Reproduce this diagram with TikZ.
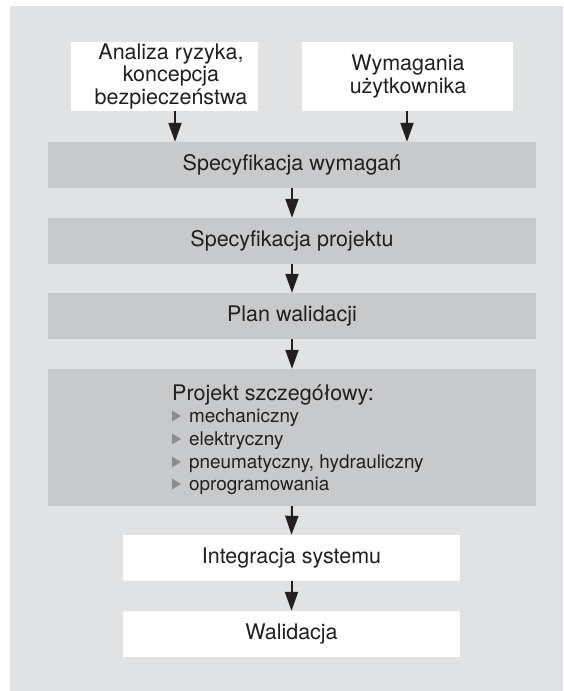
\documentclass[tikz,border=0pt]{standalone}
\usepackage{fontspec}
\setmainfont{TeX Gyre Heros}
\usetikzlibrary{arrows.meta}
\definecolor{bgc}{HTML}{E1E2E4}
\definecolor{boxc}{HTML}{C8C9CB}
\definecolor{txtc}{HTML}{231F20}
\definecolor{bulc}{HTML}{8C8D8F}
\begin{document}
\begin{tikzpicture}[x=1pt,y=-1pt,
  bigfont/.style={font=\fontsize{21.5}{22.5}\selectfont},
  smallfont/.style={font=\fontsize{18.9}{22.5}\selectfont},
  boxbase/.style={draw=none, inner sep=0pt, text=txtc, bigfont, align=center,
    text height=15pt, text depth=4.5pt},
  graybox/.style={boxbase, fill=boxc, minimum width=488pt, minimum height=46pt},
  whitebox/.style={boxbase, fill=white, minimum width=337pt, minimum height=46pt},
  topbox/.style={draw=none, inner sep=0pt, fill=white, minimum height=69pt},
  toptext/.style={inner sep=0pt, text=txtc, bigfont, align=center},
  arr/.style={draw=txtc, line width=2pt, -{Triangle[length=19pt,width=13pt]}},
  bullet/.style={fill=bulc},
  itemtext/.style={anchor=base west, inner sep=0pt, text=txtc, smallfont},
  titletext/.style={anchor=base west, inner sep=0pt, text=txtc, bigfont}
]
\useasboundingbox (0,0) rectangle (563,691);
\fill[bgc] (10,6) rectangle (563,691);

% top boxes
\node[topbox, minimum width=187pt] (ar) at (164.5,76.5) {};
\node[toptext] (art) at (171,76.5) {Analiza ryzyka,\\koncepcja\\bezpiecze\'nstwa};
\node[topbox, minimum width=211pt] (wu) at (407.5,76.5) {};
\node[toptext] (wut) at (408,76.5) {Wymagania\\użytkownika};

% main chain
\node[graybox] (sw) at (292,165) {Specyfikacja wymagań};
\node[graybox] (sp) at (292,241) {Specyfikacja projektu};
\node[graybox] (pw) at (292,316) {Plan walidacji};
\node[graybox, minimum height=137pt] (ps) at (292,437.5) {};
\node[whitebox] (is) at (291.5,558) {Integracja systemu};
\node[whitebox] (wa) at (291.5,634) {Walidacja};

% detailed project content
\node[titletext] (pt) at (172,400) {Projekt szczegółowy:};
\node[itemtext] (i1) at (189,422) {mechaniczny};
\node[itemtext] (i2) at (189,445) {elektryczny};
\node[itemtext] (i3) at (189,468) {pneumatyczny, hydrauliczny};
\node[itemtext] (i4) at (189,490) {oprogramowania};
\foreach \yy in {416,439,462,484}{
  \fill[bullet] (172,\yy-5.5) -- (181,\yy) -- (172,\yy+5.5) -- cycle;
}

% connectors
\coordinate (xl) at (175,0);
\coordinate (xr) at (407,0);
\draw[arr] (ar.south -| xl) -- (sw.north -| xl);
\draw[arr] (wu.south -| xr) -- (sw.north -| xr);
\draw[arr] (sw) -- (sp);
\draw[arr] (sp) -- (pw);
\draw[arr] (pw) -- (ps);
\draw[arr] (ps.south) -- (is.north);
\draw[arr] (is) -- (wa);
\end{tikzpicture}
\end{document}
